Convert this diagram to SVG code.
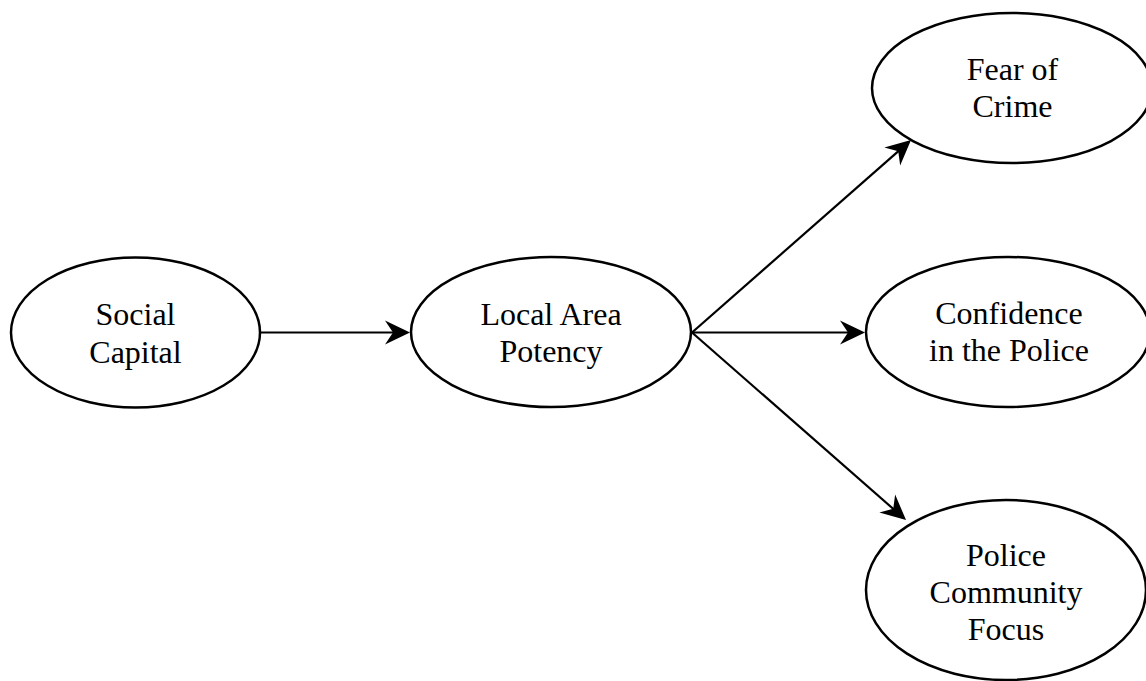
<svg xmlns="http://www.w3.org/2000/svg" width="1146" height="681" viewBox="0 0 1146 681">
<style>
  .node ellipse { fill: #ffffff; stroke: #000000; stroke-width: 2.5; }
  .node text { font-family: "Liberation Serif", "Times New Roman", serif; font-size: 32px; fill: #000000; text-anchor: middle; }
  .edge { stroke: #000000; stroke-width: 2.2; fill: none; marker-end: url(#arrow); }
</style>
<defs>
  <marker id="arrow" markerUnits="userSpaceOnUse" markerWidth="40" markerHeight="40" refX="0" refY="0" orient="auto" overflow="visible">
    <path d="M16,0 L-9,-12 L-1,0 L-9,12 Z" fill="#000000" stroke="none"/>
  </marker>
</defs>
<rect x="0" y="0" width="1146" height="681" fill="#ffffff"/>
<g id="connectors">
  <line class="edge" x1="260" y1="332.5" x2="394" y2="332.5"/>
  <line class="edge" x1="692" y1="332.5" x2="849" y2="332.5"/>
  <line class="edge" x1="692" y1="332.5" x2="899" y2="150.6"/>
  <line class="edge" x1="692" y1="332.5" x2="894" y2="509.5"/>
</g>
<g id="social-capital" class="node">
  <ellipse cx="135.5" cy="332.5" rx="124.5" ry="75"/>
  <text x="135.5" y="325">Social</text>
  <text x="135.5" y="362.5">Capital</text>
</g>
<g id="local-area-potency" class="node">
  <ellipse cx="551" cy="332" rx="140" ry="75"/>
  <text x="551" y="325">Local Area</text>
  <text x="551" y="362">Potency</text>
</g>
<g id="fear-of-crime" class="node">
  <ellipse cx="1012" cy="88" rx="140" ry="75"/>
  <text x="1012.5" y="79.5">Fear of</text>
  <text x="1012.5" y="117">Crime</text>
</g>
<g id="confidence-in-police" class="node">
  <ellipse cx="1008" cy="332" rx="142" ry="75"/>
  <text x="1009" y="324">Confidence</text>
  <text x="1009" y="361">in the Police</text>
</g>
<g id="police-community-focus" class="node">
  <ellipse cx="1006" cy="590" rx="140" ry="90"/>
  <text x="1006" y="566">Police</text>
  <text x="1006" y="603">Community</text>
  <text x="1006" y="640">Focus</text>
</g>
</svg>
